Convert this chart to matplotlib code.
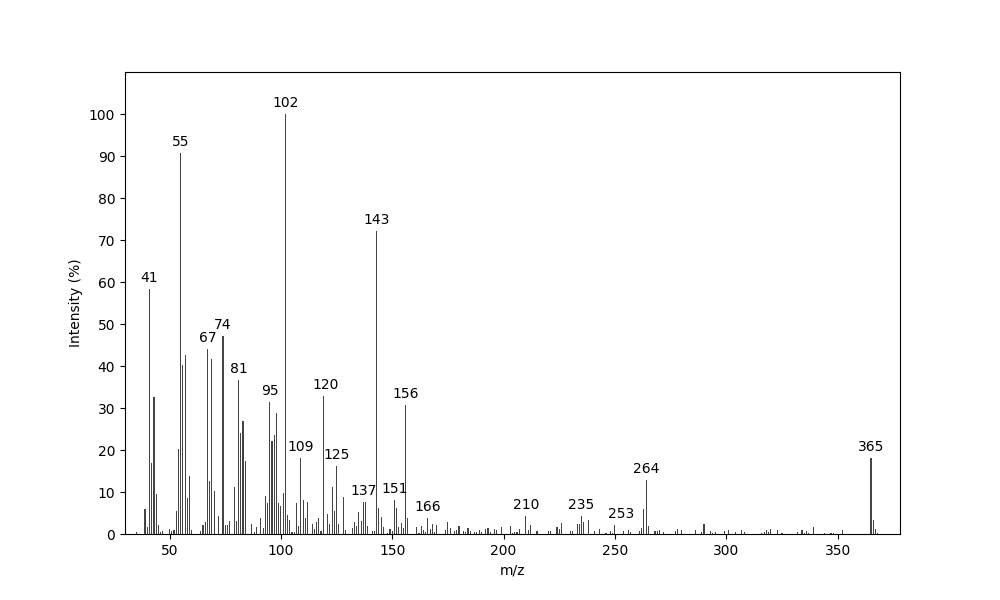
import numpy as np
import matplotlib

matplotlib.use("Agg")
import matplotlib.pyplot as plt

# m/z and relative intensity (%)
mz = [35, 39, 40, 41, 42, 43, 44, 45, 46, 47, 50, 51, 52, 53, 54, 55, 56, 57, 58, 59,
      60, 64, 65, 66, 67, 68, 69, 70, 72, 74, 75, 76, 77, 79, 80, 81, 82, 83, 84, 87,
      88, 89, 91, 92, 93, 94, 95, 96, 97, 98, 99, 100, 101, 102, 103, 104, 105, 106, 107, 108,
      109, 110, 111, 112, 114, 115, 116, 117, 118, 119, 121, 122, 123, 124, 125, 126, 128, 129, 132, 133,
      134, 135, 136, 137, 138, 139, 141, 142, 143, 144, 145, 146, 148, 149, 150, 151, 152, 153, 154, 155,
      156, 157, 161, 162, 163, 164, 165, 166, 167, 168, 169, 170, 174, 175, 176, 178, 179, 180, 182, 183,
      184, 185, 187, 188, 189, 190, 192, 193, 194, 196, 197, 199, 203, 204, 205, 206, 207, 210, 211, 212,
      215, 220, 221, 224, 225, 226, 230, 231, 233, 234, 235, 236, 238, 241, 243, 246, 248, 249, 250, 254,
      256, 257, 261, 262, 263, 264, 265, 268, 269, 270, 272, 277, 278, 280, 286, 289, 290, 293, 294, 295,
      299, 301, 304, 307, 308, 316, 317, 318, 319, 320, 323, 325, 332, 334, 335, 336, 337, 339, 344, 347,
      348, 352, 365, 366, 367, 368]
intensity = [0.4, 6.0, 1.7, 58.3, 16.9, 32.6, 9.5, 2.1, 0.5, 0.7, 1.2, 0.8, 1.0, 5.5, 20.2, 90.7, 40.2, 42.6, 8.6, 13.8,
             1.0, 0.7, 2.1, 2.9, 44.0, 12.6, 41.7, 10.2, 4.3, 47.1, 2.1, 2.1, 3.1, 11.2, 3.1, 36.7, 24.0, 26.9, 17.4, 2.4,
             0.5, 1.7, 3.8, 1.4, 9.0, 7.4, 31.4, 22.1, 23.6, 28.8, 7.4, 6.7, 9.8, 100.0, 4.5, 3.3, 0.5, 0.5, 7.4, 1.9,
             18.1, 8.1, 3.8, 7.6, 2.4, 1.2, 2.9, 3.8, 0.7, 32.9, 4.8, 2.4, 11.2, 5.5, 16.2, 2.4, 8.8, 1.0, 1.4, 2.9,
             1.9, 5.2, 3.1, 7.6, 7.6, 1.9, 0.7, 0.7, 72.1, 6.2, 4.0, 1.7, 0.2, 1.2, 0.7, 8.1, 6.2, 1.7, 2.6, 1.4,
             30.7, 3.8, 1.7, 0.2, 1.9, 1.0, 0.5, 3.8, 1.2, 2.4, 0.5, 2.1, 1.0, 2.9, 1.4, 0.7, 1.0, 1.9, 0.7, 0.5,
             1.4, 0.7, 0.5, 0.5, 1.0, 0.5, 1.2, 1.4, 0.5, 1.2, 1.0, 1.7, 1.9, 0.2, 0.5, 0.5, 1.2, 4.3, 1.0, 2.1,
             0.7, 0.7, 0.7, 1.7, 1.2, 2.6, 0.7, 0.7, 2.4, 2.4, 4.3, 2.9, 3.3, 0.7, 1.2, 0.2, 0.7, 0.2, 2.1, 0.7,
             1.0, 0.5, 0.7, 1.4, 6.0, 12.9, 1.9, 0.7, 0.7, 1.0, 0.5, 0.7, 1.2, 1.0, 1.0, 0.5, 2.4, 0.7, 0.2, 0.5,
             0.7, 1.0, 0.5, 1.0, 0.5, 0.2, 0.5, 1.0, 0.5, 1.2, 1.0, 0.2, 0.5, 1.0, 0.2, 0.7, 0.2, 1.7, 0.2, 0.2,
             0.2, 1.0, 18.1, 3.3, 1.2, 0.2]

# annotated peaks
label_mz = [41, 55, 67, 74, 81, 95, 102, 109, 120, 125, 137, 143, 151, 156, 166,
            210, 235, 253, 264, 365]

mz = np.array(mz)
intensity = np.array(intensity)

fig, ax = plt.subplots(figsize=(10, 6), dpi=100)
ax.bar(mz, intensity, width=0.5, color="#444444")

for m in label_mz:
    near = np.abs(mz - m) <= 3
    top = intensity[near].max()
    ax.text(m, top + 1, str(m), ha="center", va="bottom", fontsize=10)

ax.set_xlim(30, 378)
ax.set_ylim(0, 110)
ax.set_yticks(np.arange(0, 101, 10))
ax.set_xlabel("m/z")
ax.set_ylabel("Intensity (%)")

fig.savefig("out.png")
